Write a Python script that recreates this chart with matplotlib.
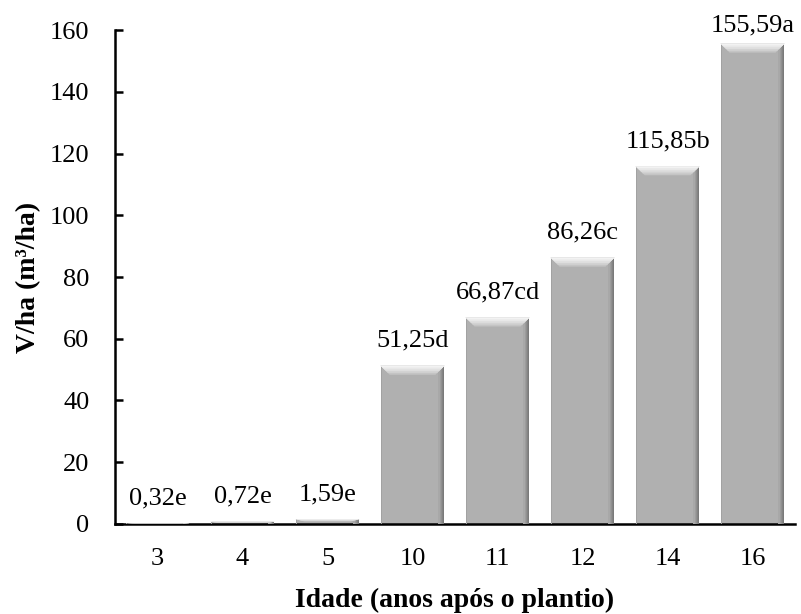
import numpy as np
import matplotlib.pyplot as plt
from matplotlib.patches import Polygon, Rectangle

idades = ["3", "4", "5", "10", "11", "12", "14", "16"]
volumes = [0.32, 0.72, 1.59, 51.25, 66.87, 86.26, 115.85, 155.59]
rotulos = ["0,32e", "0,72e", "1,59e", "51,25d", "66,87cd", "86,26c", "115,85b", "155,59a"]

plt.rcParams['font.family'] = ['Liberation Serif', 'DejaVu Serif']

fig = plt.figure(figsize=(8.01, 6.14), dpi=100)
ax = fig.add_axes([0.1436, 0.1466, 0.849, 0.8045])

x = np.arange(len(idades))
bars = ax.bar(x, volumes, width=0.75, color="#b0b0b0", zorder=2)

# efeito de chanfro (bevel) tipo Excel
dx = 0.105
dy = 2.9
for b in bars:
    x0 = b.get_x()
    x1 = x0 + b.get_width()
    h = b.get_height()
    d = min(dy, h / 2)
    # faixa da direita mais escura (degrade)
    cores_dir = ["#a8a8a8", "#9c9c9c", "#909090", "#848484", "#7a7a7a"]
    for k, c in enumerate(cores_dir):
        w = 0.07 * (len(cores_dir) - k) / len(cores_dir)
        ax.add_patch(Rectangle((x1 - w, 0), w, h, color=c, lw=0, zorder=3))
    # faixa da esquerda levemente escura
    ax.add_patch(Rectangle((x0, 0), 0.02, h, color="#a2a2a2", lw=0, zorder=3))
    # topo claro (degrade de cima para baixo)
    cores_topo = ["#c4c4c4", "#d2d2d2", "#dedede", "#e8e8e8", "#f2f2f2"]
    for k, c in enumerate(cores_topo):
        f = (len(cores_topo) - k) / len(cores_topo)
        ax.add_patch(Polygon([(x0, h), (x1, h), (x1 - dx * f, h - d * f), (x0 + dx * f, h - d * f)],
                             closed=True, color=c, lw=0, zorder=4))

textos = []
for xi, v, r in zip(x, volumes, rotulos):
    t = ax.annotate(r, (xi, v), xytext=(0, 10), textcoords="offset points",
                    ha="center", va="bottom", fontsize=19)
    textos.append(t)

ax.set_xlim(-0.5, len(idades) - 0.5)
ax.set_ylim(0, 160)
ax.set_yticks(np.arange(0, 161, 20))
ax.set_xticks(x)
ax.set_xticklabels(idades)
ax.tick_params(axis="y", direction="in", length=6, width=1.8, labelsize=19, pad=18.5)
ax.tick_params(axis="x", length=0, labelsize=19, pad=17)

for s in ["top", "right"]:
    ax.spines[s].set_visible(False)
ax.spines["left"].set_linewidth(1.8)
ax.spines["bottom"].set_linewidth(1.8)

ax.set_xlabel("Idade (anos após o plantio)", fontsize=20, fontweight="bold", labelpad=13)
ax.set_ylabel("V/ha (m³/ha)", fontsize=20, fontweight="bold", labelpad=6)

# rotulo que sai da figura desce (como no Excel)
fig.canvas.draw()
H = fig.bbox.height
margem = 14
for t in textos:
    bb = t.get_window_extent()
    if bb.y1 > H - margem:
        t.xyann = (0, 10 - (bb.y1 - (H - margem)) * 72 / fig.dpi)

fig.savefig("out.png", dpi=100)
